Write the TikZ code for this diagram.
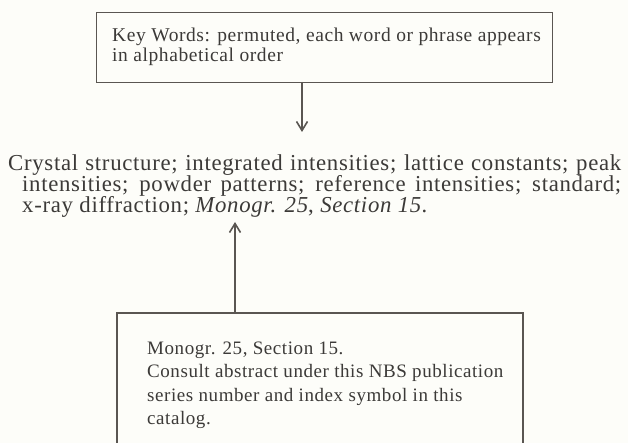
\documentclass[tikz,border=0pt]{standalone}
\usepackage{fontspec}
\setmainfont{Liberation Serif}[LetterSpace=3]
\usetikzlibrary{arrows.meta}
\definecolor{ink}{HTML}{3C3A38}
\definecolor{rule}{HTML}{5A5652}
\definecolor{paper}{HTML}{FDFDF9}
\tikzset{
  boxline/.style={draw=rule, line width=1.3pt},
  conn/.style={draw=rule, line width=1.6pt, -{Straight Barb[length=9pt,width=11pt,line width=1.6pt]}},
  txt/.style={inner sep=0pt, anchor=base west, text=ink},
  toptxt/.style={txt, font=\fontsize{19.5}{20}\selectfont},
  midtxt/.style={txt, font=\fontsize{22.8}{21}\selectfont},
  bottxt/.style={txt, font=\fontsize{19}{23}\selectfont},
}
\begin{document}
\begin{tikzpicture}[x=1pt,y=-1pt]
\fill[paper] (0,0) rectangle (628,443);
\useasboundingbox (0,0) rectangle (628,443);
% top box
\node (topbox) [boxline, rectangle, inner sep=0pt, minimum width=456pt, minimum height=70pt, anchor=north west] at (96,12) {};
\node (top1) [toptxt] at (112,42) {Key Words: permuted, each word or phrase appears};
\node (top2) [toptxt] at (112,62) {in alphabetical order};
% middle text
\node (crys1) [midtxt] at (8,171) {\makebox[613pt][s]{Crystal structure; integrated intensities; lattice constants; peak}};
\node (crys2) [midtxt] at (22,192) {\makebox[599pt][s]{intensities; powder patterns; reference intensities; standard;}};
\node (crys3) [midtxt] at (22,213) {x-ray diffraction; \textit{Monogr. 25}, \textit{Section 15.}};
% bottom box (open at the lower edge)
\coordinate (bbl) at (117,443);
\coordinate (btl) at (117,313);
\coordinate (btr) at (523,313);
\coordinate (bbr) at (523,443);
\draw[boxline] (bbl) -- (btl) -- (btr) -- (bbr);
\node (bot1) [bottxt] at (147,354) {Monogr. 25, Section 15.};
\node (bot2) [bottxt] at (147,377) {Consult abstract under this NBS publication};
\node (bot3) [bottxt] at (147,401) {series number and index symbol in this};
\node (bot4) [bottxt] at (147,424) {catalog.};
% connectors
\coordinate (a1s) at (302,82);
\coordinate (a1e) at (302,132);
\coordinate (a2s) at (235,313);
\coordinate (a2e) at (235,222);
\draw[conn] (a1s) -- (a1e);
\draw[conn] (a2s) -- (a2e);
\end{tikzpicture}
\end{document}
